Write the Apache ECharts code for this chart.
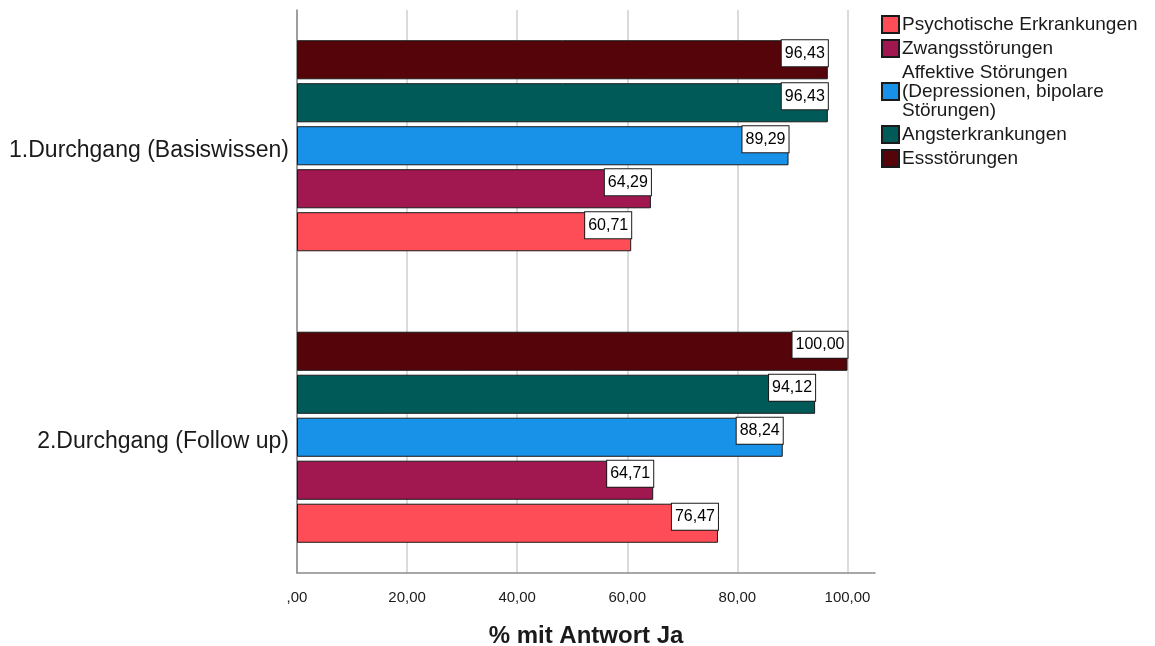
<!DOCTYPE html>
<html>
<head>
<meta charset="utf-8">
<script src="https://cdn.jsdelivr.net/npm/echarts@6/dist/echarts.min.js"></script>
<style>html,body{margin:0;padding:0;background:#fff}#c{width:1155px;height:646px}</style>
</head>
<body>
<div id="c"></div>
<script>
const categories = ['1.Durchgang (Basiswissen)', '2.Durchgang (Follow up)'];
const seriesNames = ['Psychotische Erkrankungen', 'Zwangsstörungen', 'Affektive Störungen (Depressionen, bipolare Störungen)', 'Angsterkrankungen', 'Essstörungen'];
const psychotisch = [60.71, 76.47];
const zwang = [64.29, 64.71];
const affektiv = [89.29, 88.24];
const angst = [96.43, 94.12];
const ess = [96.43, 100.00];
const seriesColors = ['#FF4D57', '#A0184F', '#1891E8', '#005B58', '#55040A'];
const axisTitle = '% mit Antwort Ja';

const FONT = "'Liberation Sans', Arial, sans-serif";
const values = [psychotisch, zwang, affektiv, angst, ess];
const fmt = v => {
  const s = v.toFixed(2).replace('.', ',');
  return s.startsWith('0,') ? s.slice(1) : s;
};

// series listed top-to-bottom within each group
const order = [4, 3, 2, 1, 0];
const series = order.map(i => ({
  name: seriesNames[i],
  type: 'bar',
  xAxisIndex: 1,
  yAxisIndex: 1,
  data: values[i],
  barCategoryGap: '27.6%',
  barGap: '10%',
  itemStyle: { color: seriesColors[i], borderColor: '#1a1a1a', borderWidth: 1 },
  label: {
    show: true,
    position: 'insideTopRight',
    distance: 0,
    formatter: p => fmt(p.value),
    color: '#000',
    fontFamily: FONT,
    fontSize: 16,
    lineHeight: 18,
    backgroundColor: '#fff',
    borderColor: '#1a1a1a',
    borderWidth: 1,
    padding: [4, 3, 4, 3]
  }
}));

const chart = echarts.init(document.getElementById('c'));
chart.setOption({
  animation: false,
  backgroundColor: '#fff',
  textStyle: { fontFamily: FONT },
  legend: {
    orient: 'vertical',
    left: 876,
    top: 10,
    itemWidth: 17,
    itemHeight: 17,
    itemGap: 5,
    icon: 'rect',
    data: seriesNames,
    formatter: n => n.startsWith('Affektive') ? 'Affektive Störungen\n(Depressionen, bipolare\nStörungen)' : n,
    textStyle: { fontFamily: FONT, fontSize: 19, lineHeight: 19, color: '#1a1a1a', padding: [0, 0, 0, -2] }
  },
  grid: [
    { left: 297, right: 280, top: 10, bottom: 73, outerBoundsMode: 'none', containLabel: false },
    { left: 297, right: 280, top: 0, height: 583, outerBoundsMode: 'none', containLabel: false }
  ],
  xAxis: [
    {
      type: 'value', gridIndex: 0, min: 0, max: 105, interval: 20,
      axisLine: { show: true, onZero: false, lineStyle: { color: '#8a8a8a', width: 1.5 } },
      axisTick: { show: false },
      axisLabel: {
        margin: 17, fontSize: 15, color: '#1a1a1a', fontFamily: FONT,
        formatter: v => (v % 20 === 0 ? fmt(v) : '')
      },
      splitLine: { show: true, showMaxLine: false, lineStyle: { color: '#cfcfcf', width: 1.5 } },
      name: axisTitle,
      nameLocation: 'middle',
      nameGap: 51,
      nameTextStyle: { fontFamily: FONT, fontSize: 24, fontWeight: 'bold', color: '#1a1a1a' }
    },
    {
      type: 'value', gridIndex: 1, min: 0, max: 105, show: false
    }
  ],
  yAxis: [
    {
      type: 'value', gridIndex: 0, min: 0, max: 1,
      axisLine: { show: true, lineStyle: { color: '#8a8a8a', width: 1.5 } },
      axisTick: { show: false }, axisLabel: { show: false }, splitLine: { show: false }
    },
    {
      type: 'category', gridIndex: 1, data: categories, inverse: true,
      axisLine: { show: false }, axisTick: { show: false },
      axisLabel: { margin: 8, fontSize: 23, color: '#1a1a1a', fontFamily: FONT, verticalAlign: 'top', lineHeight: 9 }
    }
  ],
  series: series
});
</script>
</body>
</html>
